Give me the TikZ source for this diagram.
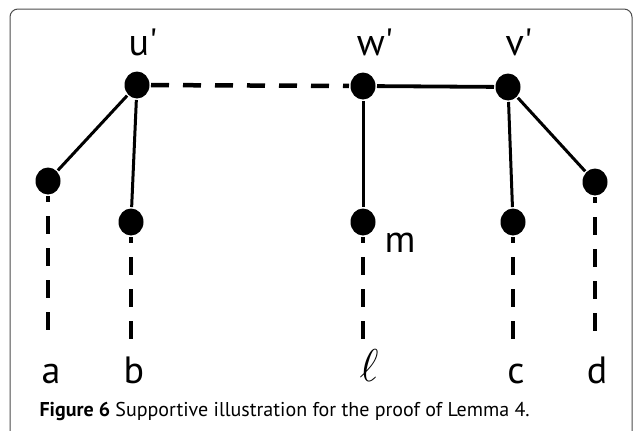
\RequirePackage{fix-cm}
\documentclass[tikz,border=0pt]{standalone}
\usepackage{fontspec}
\usepackage{tikz}
\usetikzlibrary{shapes,positioning}
\newfontfamily\figfont{PT Sans}
\tikzset{vtx/.style={ellipse,fill=black,draw=none,minimum width=25pt,minimum height=27pt,inner sep=0pt}}
\tikzset{lab/.style={font=\figfont\fontsize{38}{38}\selectfont,anchor=base,inner sep=0pt}}
\tikzset{dashline/.style={line width=4.5pt,dash pattern=on 18pt off 14pt,dash phase=12pt}}

\begin{document}
\begin{tikzpicture}[x=1pt,y=-1pt,line width=3pt]
        \useasboundingbox (0,0) rectangle (633,431);
        \draw [black!70,line width=1pt,rounded corners=8pt] (10,9) rectangle (632,470);

        \node[vtx] (u)at (137,85) {};
        \node[vtx] (w)at (363,86) {};
        \node[vtx] (v)at (508,87) {};
        \node[vtx] (a)at (48,181) {};
        \node[vtx] (b)at (131,222) {};
        \node[vtx] (m)at (363,222) {};
        \node[vtx] (c)at (513,222) {};
        \node[vtx] (d)at (595,182) {};

        \node[lab] (lu)at (143,55) {u\textquotesingle};
        \node[lab] (lw)at (375,55) {w\textquotesingle};
        \node[lab] (lv)at (519,55) {v\textquotesingle};
        \node[lab] (lm)at (400,252) {m};
        \node[lab] (la)at (51,383) {a};
        \node[lab] (lb)at (134,383) {b};
        \node[lab] (ll)at (369,381) {\fontsize{46}{46}\selectfont$\ell$};
        \node[lab] (lc)at (516,383) {c};
        \node[lab] (ld)at (597,383) {d};

        \coordinate (ea)at (48,343);
        \coordinate (eb)at (131,343);
        \coordinate (el)at (363,343);
        \coordinate (ec)at (513,343);
        \coordinate (ed)at (595,343);

        \draw [] (u) to [] (a);
        \draw [] (u) to [] (b);
        \draw [line width=3.8pt] (w) to [] (v);
        \draw [] (w) to [] (m);
        \draw [] (v) to [] (c);
        \draw [] (v) to [] (d);
        \draw [dashline,dash phase=0pt] (u) to [] (w);
        \draw [dashline] (a) to [] (ea);
        \draw [dashline] (b) to [] (eb);
        \draw [dashline] (m) to [] (el);
        \draw [dashline] (c) to [] (ec);
        \draw [dashline] (d) to [] (ed);

        \node[anchor=base west,inner sep=0pt,font=\figfont\fontsize{20}{20}\selectfont] (cap)at (38,416) {\textbf{Figure 6} Supportive illustration for the proof of Lemma 4.};
    \end{tikzpicture}
\end{document}
